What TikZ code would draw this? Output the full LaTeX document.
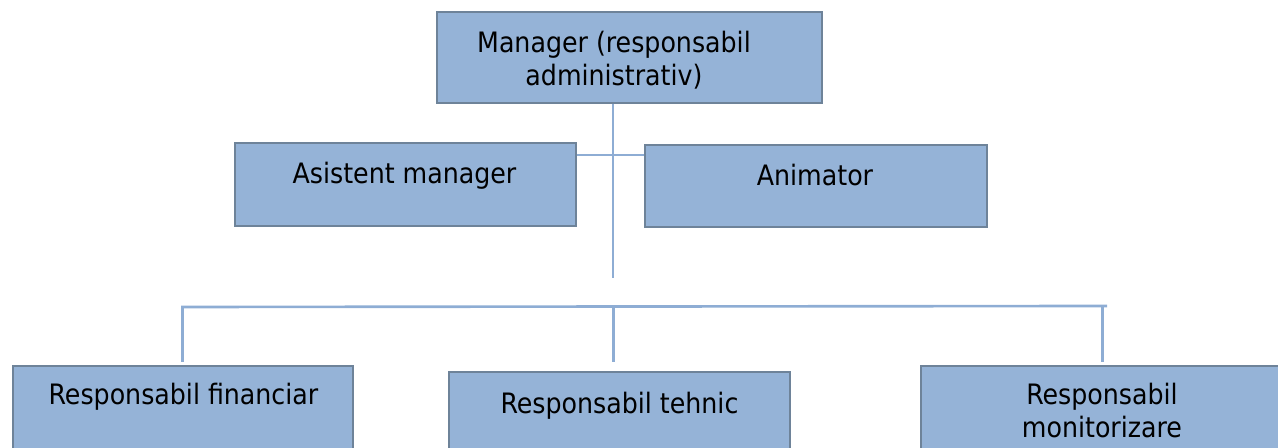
\documentclass[tikz,border=0pt]{standalone}
\usepackage{fontspec}
\setmainfont{DejaVu Sans Condensed}
\usepackage{tikz}
\usetikzlibrary{positioning}
\definecolor{boxfill}{HTML}{95B3D7}
\definecolor{boxline}{HTML}{6E8399}
\definecolor{wirecol}{HTML}{8EADD4}
\tikzset{
  box/.style={draw=boxline, fill=boxfill, line width=1.2pt, rectangle, inner sep=0pt},
  lbl/.style={font=\fontsize{16}{18.8}\selectfont, align=center, inner sep=0pt},
  wire/.style={draw=wirecol, line width=1.5pt}
}

\begin{document}
\begin{tikzpicture}[x=0.02cm, y=-0.02cm]
    \clip (0,0) rectangle (1278,448);
    % boxes
    \node[box, minimum width=7.7cm, minimum height=1.82cm] (mgr) at (629.5,57.5) {};
    \node[box, minimum width=6.82cm, minimum height=1.66cm] (asist) at (405.5,184.5) {};
    \node[box, minimum width=6.84cm, minimum height=1.64cm] (anim) at (816,186) {};
    \node[box, minimum width=6.8cm, minimum height=1.66cm] (fin) at (183,407.5) {};
    \node[box, minimum width=6.82cm, minimum height=1.66cm] (teh) at (619.5,413.5) {};
    \node[box, minimum width=7.38cm, minimum height=1.66cm] (mon) at (1105.5,407.5) {};
    % texts
    \node[lbl] (mgr-t) at (614,60.6) {Manager (responsabil\\administrativ)};
    \node[lbl, anchor=base] (asist-t) at (404.5,184) {Asistent manager};
    \node[lbl, anchor=base] (anim-t) at (815,186) {Animator};
    \node[lbl, anchor=base] (fin-t) at (183.5,405) {Responsabil financiar};
    \node[lbl, anchor=base] (teh-t) at (619.5,414) {Responsabil tehnic};
    \node[lbl] (mon-t) at (1102,410.8) {Responsabil\\monitorizare};
    % connectors
    \coordinate (hub) at (613,155);
    \coordinate (stem) at (613,278);
    \coordinate (busl) at (181,307);
    \coordinate (busr) at (1107,306);
    \draw[wire] (hub |- mgr.south) -- (stem);
    \draw[wire] (asist.east |- hub) -- (anim.west |- hub);
    \draw[wire] (busl) -- (busr);
    \foreach \n/\x in {fin/182.5, teh/613.5, mon/1102.5}{
        \coordinate (\n-top) at (\x,362);
        \draw[wire] (\n-top |- busl) -- (\n-top);
    }
\end{tikzpicture}
\end{document}
